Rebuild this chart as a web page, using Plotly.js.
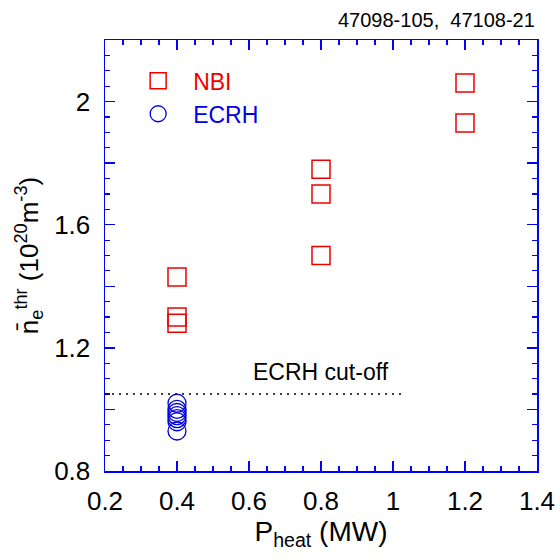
<!DOCTYPE html>
<html>
<head>
<meta charset="utf-8">
<script src="https://cdn.plot.ly/plotly-3.0.1.min.js"></script>
<style>html,body{margin:0;padding:0;background:#fff;}#chart{width:560px;height:560px;}</style>
</head>
<body>
<div id="chart"></div>
<script>
// Data
const nbiPower = [0.4, 0.4, 0.4, 0.8, 0.8, 0.8, 1.2, 1.2];
const nbiDensity = [1.43, 1.30, 1.28, 1.78, 1.70, 1.50, 2.06, 1.93];
const ecrhPower = [0.4, 0.4, 0.4, 0.4, 0.4, 0.4, 0.4];
const ecrhDensity = [1.02, 1.00, 0.99, 0.98, 0.97, 0.96, 0.93];
const cutoffDensity = 1.05;
const cutoffPowerRange = [0.2, 1.025];
const yTickVals = [0.8, 1.0, 1.2, 1.4, 1.6, 1.8, 2.0, 2.2];
const yTickText = ["0.8", "", "1.2", "", "1.6", "", "2", ""];
const xTickVals = [0.2, 0.4, 0.6, 0.8, 1.0, 1.2, 1.4];
const xTickText = ["0.2", "0.4", "0.6", "0.8", "1", "1.2", "1.4"];
const shotLabel = "47098-105,  47108-21";
const cutoffLabel = "ECRH cut-off";

const RED = "#ee0000";
const BLUE = "#0000e0";
const FONT = "Liberation Sans, Arial, sans-serif";

const traces = [
  {
    x: nbiPower, y: nbiDensity, type: "scatter", mode: "markers",
    name: '<span style="color:' + RED + '">NBI</span>',
    marker: {symbol: "square-open", size: 18, color: RED, line: {width: 1.5, color: RED}}
  },
  {
    x: ecrhPower, y: ecrhDensity, type: "scatter", mode: "markers",
    name: '<span style="color:' + BLUE + '">ECRH</span>',
    marker: {symbol: "circle-open", size: 18, color: BLUE, line: {width: 1.3, color: BLUE}}
  }
];

const axisCommon = {
  showline: true, linecolor: "blue", linewidth: 1.5, mirror: "allticks",
  ticks: "inside", ticklen: 10, tickwidth: 1.5, tickcolor: "blue",
  showgrid: false, zeroline: false,
  tickfont: {family: FONT, size: 26, color: "#000"},
  minor: {ticks: "inside", ticklen: 5, tickwidth: 1.2, tickcolor: "blue", dtick: 0.05, showgrid: false}
};

const layout = {
  width: 560, height: 560,
  margin: {l: 105, r: 23, t: 40, b: 89},
  paper_bgcolor: "#fff", plot_bgcolor: "#fff",
  font: {family: FONT, size: 23, color: "#000"},
  showlegend: true,
  legend: {x: 0.042, y: 0.955, xanchor: "left", yanchor: "top", bgcolor: "rgba(0,0,0,0)",
           font: {family: FONT, size: 23}, itemwidth: 60, tracegroupgap: 0},
  xaxis: Object.assign({}, axisCommon, {
    range: [0.2, 1.4], tickmode: "array", tickvals: xTickVals, ticktext: xTickText,
    ticklabelstandoff: 6,
    title: {text: "P<sub>heat</sub> (MW)", font: {family: FONT, size: 28, color: "#000"}, standoff: 5}
  }),
  yaxis: Object.assign({}, axisCommon, {
    range: [0.8, 2.2], tickmode: "array", tickvals: yTickVals, ticktext: yTickText,
    ticklabelstandoff: 8,
    title: {text: "n\u0304<sub>e</sub><sup>thr</sup> (10<sup>20</sup>m<sup>-3</sup>)", font: {family: FONT, size: 26, color: "#000"}, standoff: 8}
  }),
  shapes: [
    {type: "line", xref: "x", yref: "y", x0: cutoffPowerRange[0], x1: cutoffPowerRange[1],
     y0: cutoffDensity, y1: cutoffDensity, line: {color: "#000", width: 1.5, dash: "2px,5px"}}
  ],
  annotations: [
    {xref: "paper", yref: "paper", x: 1, y: 1.046, xanchor: "right", yanchor: "middle",
     text: shotLabel, showarrow: false, font: {family: FONT, size: 20, color: "#000"}},
    {xref: "x", yref: "y", x: 0.8, y: 1.12, xanchor: "center", yanchor: "middle",
     text: cutoffLabel, showarrow: false, font: {family: FONT, size: 23, color: "#000"}}
  ]
};

Plotly.newPlot("chart", traces, layout, {staticPlot: true, displayModeBar: false});
</script>
</body>
</html>
